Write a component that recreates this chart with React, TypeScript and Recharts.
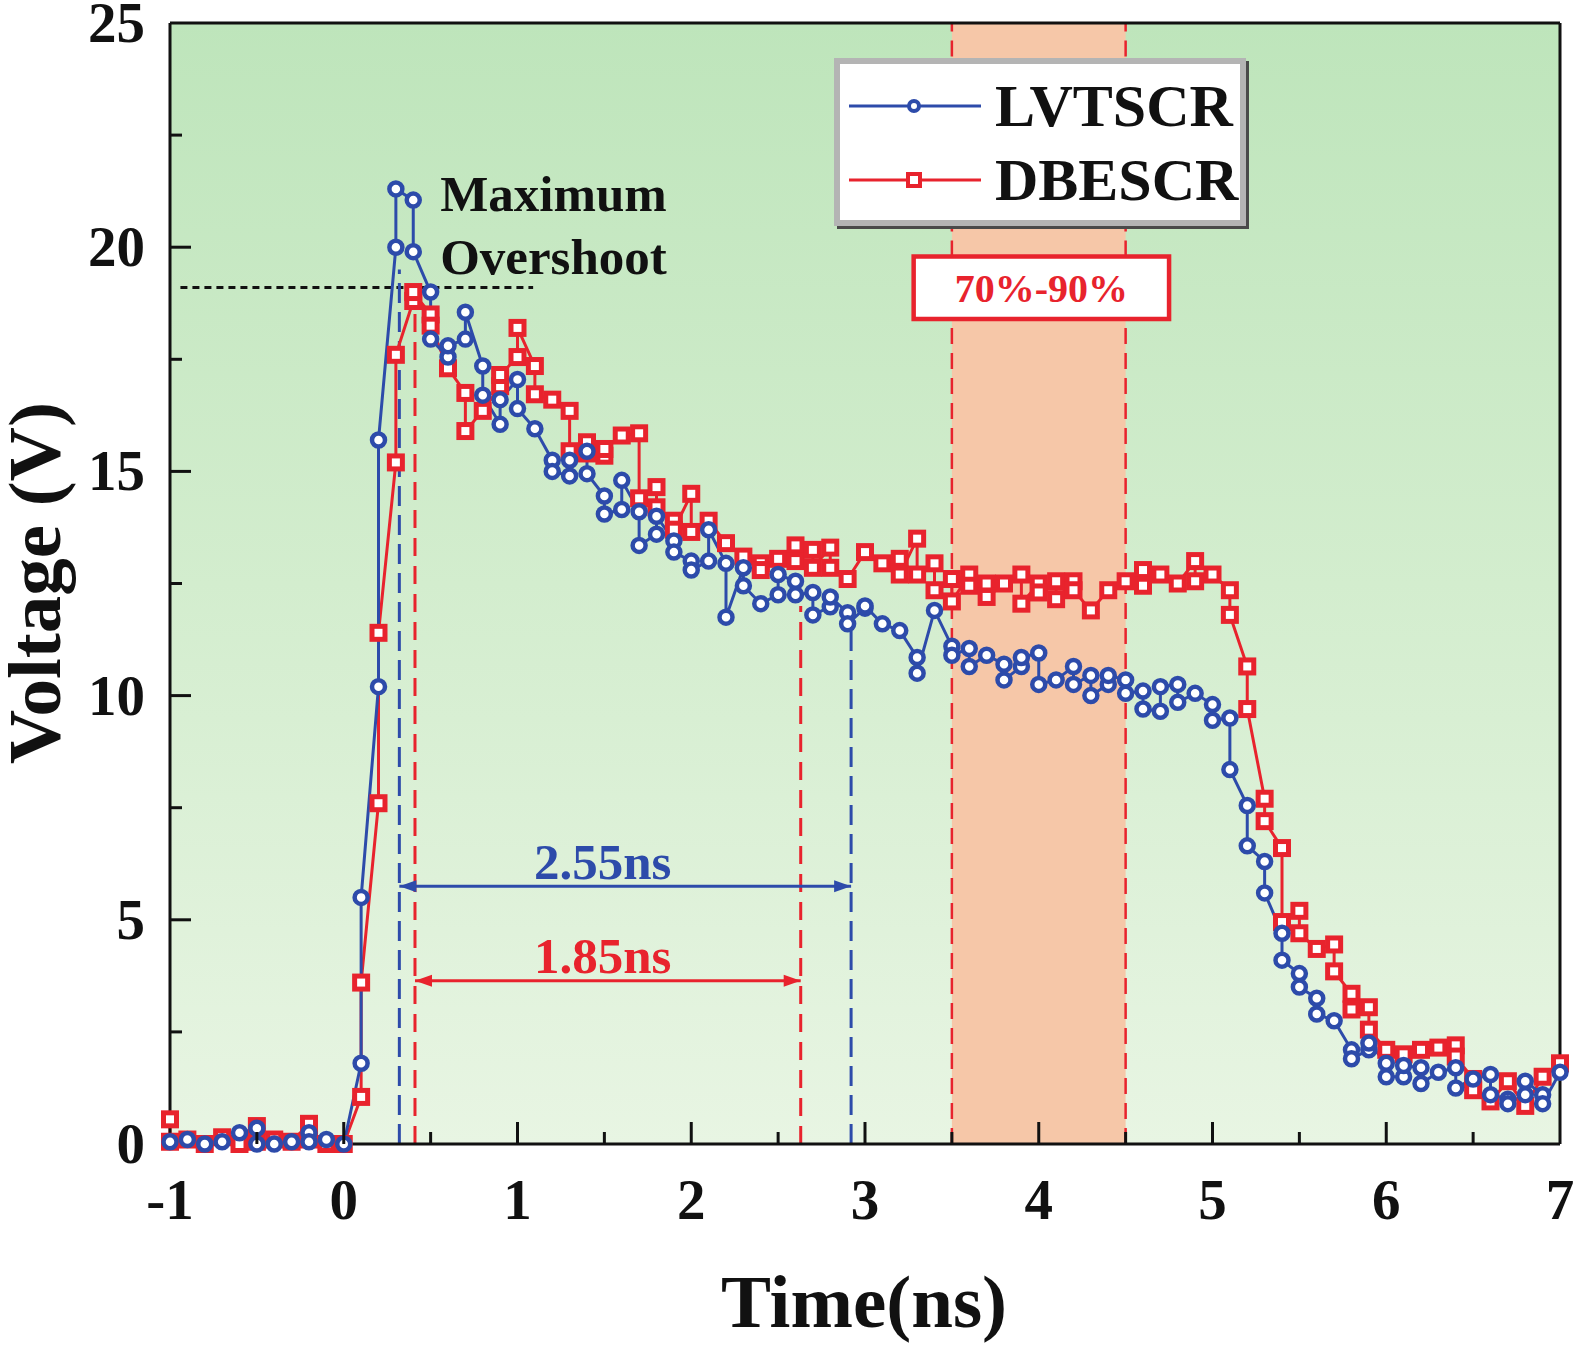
import React from 'react';
import {
  LineChart,
  Line,
  XAxis,
  YAxis,
  ReferenceArea,
  ReferenceLine,
  ReferenceDot,
  Legend,
} from 'recharts';

const BLUE = '#2d4baa';
const RED = '#e8232d';
const INK = '#111';
const SERIF = '"Liberation Serif", "Times New Roman", serif';

// [time ns, voltage V]
const LVTSCR: [number, number][] = [
  [-1.0, 0.05], [-0.9, 0.1], [-0.8, 0.0], [-0.7, 0.05], [-0.6, 0.25], [-0.5, 0.35], [-0.5, 0.0],
  [-0.4, 0.0], [-0.3, 0.05], [-0.2, 0.25], [-0.2, 0.05], [-0.1, 0.1], [0.0, 0.0],
  [0.1, 1.8], [0.1, 5.5], [0.2, 10.2], [0.2, 15.7], [0.3, 20.0], [0.3, 21.3], [0.4, 21.05], [0.4, 19.9],
  [0.5, 19.0], [0.5, 17.95], [0.6, 17.55], [0.6, 17.8], [0.7, 17.95], [0.7, 18.55], [0.8, 17.35], [0.8, 16.7],
  [0.9, 16.05], [0.9, 16.6], [1.0, 17.05], [1.0, 16.4], [1.1, 15.95], [1.2, 15.25], [1.2, 15.0],
  [1.3, 14.9], [1.3, 15.25], [1.4, 15.45], [1.4, 14.95], [1.5, 14.45], [1.5, 14.05], [1.6, 14.15], [1.6, 14.8],
  [1.7, 14.1], [1.7, 13.35], [1.8, 13.6], [1.8, 14.0], [1.9, 13.45], [1.9, 13.2], [2.0, 13.0], [2.0, 12.8],
  [2.1, 13.0], [2.1, 13.7], [2.2, 12.95], [2.2, 11.75], [2.3, 12.85], [2.3, 12.45], [2.4, 12.05],
  [2.5, 12.25], [2.5, 12.7], [2.6, 12.55], [2.6, 12.25], [2.7, 12.3], [2.7, 11.8], [2.8, 11.98], [2.8, 12.2],
  [2.9, 11.85], [2.9, 11.6], [3.0, 11.95], [3.0, 12.0], [3.1, 11.6], [3.2, 11.45], [3.3, 10.85], [3.3, 10.5],
  [3.4, 11.9], [3.5, 11.1], [3.5, 10.9], [3.6, 11.05], [3.6, 10.65], [3.7, 10.9], [3.8, 10.7], [3.8, 10.35],
  [3.9, 10.65], [3.9, 10.85], [4.0, 10.95], [4.0, 10.25], [4.1, 10.35], [4.2, 10.65], [4.2, 10.25],
  [4.3, 10.45], [4.3, 10.0], [4.4, 10.25], [4.4, 10.45], [4.5, 10.35], [4.5, 10.05], [4.6, 10.1], [4.6, 9.7],
  [4.7, 9.65], [4.7, 10.2], [4.8, 10.25], [4.8, 9.85], [4.9, 10.05], [5.0, 9.8], [5.0, 9.45],
  [5.1, 9.5], [5.1, 8.35], [5.2, 7.55], [5.2, 6.65], [5.3, 6.3], [5.3, 5.6], [5.4, 4.7], [5.4, 4.1],
  [5.5, 3.8], [5.5, 3.5], [5.6, 3.25], [5.6, 2.9], [5.7, 2.75], [5.8, 2.1], [5.8, 1.9], [5.9, 2.1], [5.9, 2.25],
  [6.0, 1.8], [6.0, 1.5], [6.1, 1.5], [6.1, 1.75], [6.2, 1.7], [6.2, 1.35], [6.3, 1.6], [6.4, 1.7], [6.4, 1.25],
  [6.5, 1.45], [6.6, 1.55], [6.6, 1.1], [6.7, 1.0], [6.7, 0.9], [6.8, 1.1], [6.8, 1.4], [6.9, 1.1], [6.9, 0.9],
  [7.0, 1.6],
];

const DBESCR: [number, number][] = [
  [-1.0, 0.55], [-1.0, 0.05], [-0.9, 0.1], [-0.8, 0.0], [-0.7, 0.15], [-0.6, 0.0], [-0.5, 0.4], [-0.5, 0.05],
  [-0.4, 0.1], [-0.3, 0.05], [-0.2, 0.45], [-0.2, 0.1], [-0.1, 0.0], [0.0, 0.0],
  [0.1, 1.05], [0.1, 3.6], [0.2, 7.6], [0.2, 11.4], [0.3, 15.2], [0.3, 17.6], [0.4, 18.8], [0.4, 19.0],
  [0.5, 18.5], [0.5, 18.25], [0.6, 17.3], [0.7, 16.75], [0.7, 15.9], [0.8, 16.35], [0.9, 16.9], [0.9, 17.15],
  [1.0, 17.55], [1.0, 18.2], [1.1, 17.35], [1.1, 16.72], [1.2, 16.6], [1.3, 16.35], [1.3, 15.45],
  [1.4, 15.65], [1.4, 15.4], [1.5, 15.35], [1.5, 15.5], [1.6, 15.8], [1.7, 15.85], [1.7, 14.4],
  [1.8, 14.65], [1.8, 14.2], [1.9, 13.9], [1.9, 13.7], [2.0, 14.5], [2.0, 13.65], [2.1, 13.9], [2.2, 13.4],
  [2.3, 13.1], [2.4, 12.95], [2.4, 12.8], [2.5, 13.05], [2.6, 13.35], [2.6, 13.0], [2.7, 13.25], [2.7, 12.85],
  [2.8, 13.3], [2.8, 12.85], [2.9, 12.6], [3.0, 13.2], [3.1, 12.95], [3.2, 13.05], [3.2, 12.7],
  [3.3, 13.5], [3.3, 12.7], [3.4, 12.95], [3.4, 12.35], [3.5, 12.6], [3.5, 12.1], [3.6, 12.7], [3.6, 12.45],
  [3.7, 12.5], [3.7, 12.2], [3.8, 12.5], [3.9, 12.7], [3.9, 12.05], [4.0, 12.5], [4.0, 12.3],
  [4.1, 12.55], [4.1, 12.15], [4.2, 12.55], [4.2, 12.35], [4.3, 11.9], [4.4, 12.35], [4.5, 12.55],
  [4.6, 12.8], [4.6, 12.45], [4.7, 12.7], [4.8, 12.5], [4.9, 13.0], [4.9, 12.55], [5.0, 12.7],
  [5.1, 12.35], [5.1, 11.8], [5.2, 10.65], [5.2, 9.7], [5.3, 7.7], [5.3, 7.2], [5.4, 6.6], [5.4, 4.95],
  [5.5, 5.2], [5.5, 4.7], [5.6, 4.35], [5.7, 4.45], [5.7, 3.85], [5.8, 3.35], [5.8, 3.0], [5.9, 3.05], [5.9, 2.55],
  [6.0, 2.1], [6.1, 2.0], [6.2, 2.1], [6.3, 2.15], [6.4, 2.2], [6.4, 1.95], [6.5, 1.45], [6.5, 1.2],
  [6.6, 0.95], [6.7, 1.4], [6.8, 0.85], [6.9, 1.5], [7.0, 1.8],
];

const X_TICKS = [-1, -0.5, 0, 0.5, 1, 1.5, 2, 2.5, 3, 3.5, 4, 4.5, 5, 5.5, 6, 6.5, 7];
const Y_TICKS = [0, 2.5, 5, 7.5, 10, 12.5, 15, 17.5, 20, 22.5, 25];

const lvtData = LVTSCR.map(([t, v]) => ({ t, v }));
const dbeData = DBESCR.map(([t, v]) => ({ t, v }));

const W = 1575;
const H = 1347;
const PLOT = { left: 170, top: 23, right: 1560, bottom: 1144 };

const boldText = { fontFamily: SERIF, fontWeight: 700 } as const;

const YTick = (p: any) => {
  const v = p.payload.value as number;
  const major = v % 5 === 0;
  return (
    <g>
      {v > 0 && v < 25 && (
        <line x1={p.x} x2={p.x + (major ? 21 : 12)} y1={p.y} y2={p.y} stroke={INK} strokeWidth={3} />
      )}
      {major && (
        <text x={p.x - 25} y={p.y + 19} textAnchor="end" fontSize={57} fill={INK} {...boldText}>
          {v}
        </text>
      )}
    </g>
  );
};

const XTick = (p: any) => {
  const v = p.payload.value as number;
  const major = Number.isInteger(v);
  return (
    <g>
      {v > -1 && v < 7 && (
        <line x1={p.x} x2={p.x} y1={p.y} y2={p.y - (major ? 22 : 12)} stroke={INK} strokeWidth={3} />
      )}
      {major && (
        <text x={p.x} y={p.y + 75} textAnchor="middle" fontSize={57} fill={INK} {...boldText}>
          {v}
        </text>
      )}
    </g>
  );
};

const circleDot = (p: any) => (
  <circle key={`c${p.index}`} cx={p.cx} cy={p.cy} r={6.5} fill="#fff" stroke={BLUE} strokeWidth={4.5} />
);

const squareDot = (p: any) => (
  <rect key={`s${p.index}`} x={p.cx - 6.5} y={p.cy - 6.5} width={13} height={13} fill="#fff" stroke={RED} strokeWidth={5} />
);

const arrowHead = (dir: 1 | -1, color: string) => (p: any) => (
  <polygon
    points={`${p.cx},${p.cy} ${p.cx + dir * 17},${p.cy - 6} ${p.cx + dir * 17},${p.cy + 6}`}
    fill={color}
  />
);

const textShape = (txt: string, color: string, size: number, anchor: 'start' | 'middle') => (p: any) => (
  <text x={p.cx} y={p.cy} textAnchor={anchor} fontSize={size} fill={color} {...boldText}>
    {txt}
  </text>
);

const LegendBox = () => {
  const rows = [
    { name: 'LVTSCR', color: BLUE, square: false, top: 48 },
    { name: 'DBESCR', color: RED, square: true, top: 122 },
  ];
  return (
    <div
      style={{
        position: 'relative',
        width: 412,
        height: 168,
        boxSizing: 'border-box',
        background: '#fff',
        border: '6px solid #b4b4b4',
        boxShadow: '3px 3px 0 #4a4a4a',
      }}
    >
      {rows.map((r) => (
        <div key={r.name} style={{ position: 'absolute', left: 9, top: r.top - 6 - 37, height: 74, display: 'flex', alignItems: 'center' }}>
          <svg width={132} height={20} style={{ display: 'block' }}>
            <line x1={0} x2={132} y1={10} y2={10} stroke={r.color} strokeWidth={3} />
            {r.square ? (
              <rect x={59} y={4} width={12} height={12} fill="#fff" stroke={r.color} strokeWidth={4} />
            ) : (
              <circle cx={65} cy={10} r={5} fill="#fff" stroke={r.color} strokeWidth={4} />
            )}
          </svg>
          <span style={{ marginLeft: 14, fontSize: 60, lineHeight: '74px', color: INK, ...boldText }}>{r.name}</span>
        </div>
      ))}
    </div>
  );
};

export default function App() {
  return (
    <div style={{ position: 'absolute', left: 0, top: 0, width: W, height: H, background: '#fff' }}>
      <div
        style={{
          position: 'absolute',
          left: PLOT.left,
          top: PLOT.top,
          width: PLOT.right - PLOT.left,
          height: PLOT.bottom - PLOT.top,
          background: 'linear-gradient(to bottom, #bee5bb 0%, #d3edce 50%, #e8f5e3 100%)',
        }}
      />
      <LineChart
        width={W}
        height={H}
        margin={{ top: PLOT.top, right: W - PLOT.right, left: PLOT.left - 100, bottom: H - PLOT.bottom - 60 }}
      >
        <XAxis
          type="number"
          dataKey="t"
          domain={[-1, 7]}
          ticks={X_TICKS}
          interval={0}
          tickLine={false}
          tickSize={0}
          tickMargin={0}
          height={60}
          axisLine={{ stroke: INK, strokeWidth: 3 }}
          tick={<XTick />}
          label={{
            content: () => (
              <text x={864} y={1327} textAnchor="middle" fontSize={75} fill={INK} {...boldText}>
                Time(ns)
              </text>
            ),
          }}
        />
        <YAxis
          type="number"
          domain={[0, 25]}
          ticks={Y_TICKS}
          interval={0}
          tickLine={false}
          tickSize={0}
          tickMargin={0}
          width={100}
          axisLine={{ stroke: INK, strokeWidth: 3 }}
          tick={<YTick />}
          label={{
            content: () => (
              <text x={60} y={583} transform="rotate(-90 60 583)" textAnchor="middle" fontSize={75} fill={INK} {...boldText}>
                Voltage (V)
              </text>
            ),
          }}
        />

        <ReferenceArea x1={3.5} x2={4.5} y1={0} y2={25} fill="#f6c7a8" fillOpacity={1} stroke="none" />
        <ReferenceLine segment={[{ x: 3.5, y: 0 }, { x: 3.5, y: 18.4 }]} stroke={RED} strokeWidth={2.5} strokeDasharray="16 9" />
        <ReferenceLine segment={[{ x: 3.5, y: 19.79 }, { x: 3.5, y: 25 }]} stroke={RED} strokeWidth={2.5} strokeDasharray="16 9" />
        <ReferenceLine segment={[{ x: 4.5, y: 0 }, { x: 4.5, y: 18.4 }]} stroke={RED} strokeWidth={2.5} strokeDasharray="16 9" />
        <ReferenceLine segment={[{ x: 4.5, y: 19.79 }, { x: 4.5, y: 25 }]} stroke={RED} strokeWidth={2.5} strokeDasharray="16 9" />
        <ReferenceLine y={25} stroke={INK} strokeWidth={3} />
        <ReferenceLine x={7} stroke={INK} strokeWidth={3} />

        <ReferenceLine segment={[{ x: -0.94, y: 19.1 }, { x: 1.09, y: 19.1 }]} stroke={INK} strokeWidth={3} strokeDasharray="7 5" />
        <ReferenceLine segment={[{ x: 0.32, y: 0 }, { x: 0.32, y: 19.5 }]} stroke={BLUE} strokeWidth={3} strokeDasharray="20 9" />
        <ReferenceLine segment={[{ x: 0.41, y: 0 }, { x: 0.41, y: 18.7 }]} stroke={RED} strokeWidth={3} strokeDasharray="18 10" />
        <ReferenceLine segment={[{ x: 2.63, y: 0 }, { x: 2.63, y: 12.0 }]} stroke={RED} strokeWidth={3} strokeDasharray="18 10" />
        <ReferenceLine segment={[{ x: 2.92, y: 0 }, { x: 2.92, y: 11.5 }]} stroke={BLUE} strokeWidth={3} strokeDasharray="20 9" />

        <ReferenceLine segment={[{ x: 0.32, y: 5.75 }, { x: 2.92, y: 5.75 }]} stroke={BLUE} strokeWidth={3} />
        <ReferenceLine segment={[{ x: 0.41, y: 3.64 }, { x: 2.63, y: 3.64 }]} stroke={RED} strokeWidth={3} />
        <ReferenceDot x={0.32} y={5.75} r={0} shape={arrowHead(1, BLUE)} />
        <ReferenceDot x={2.92} y={5.75} r={0} shape={arrowHead(-1, BLUE)} />
        <ReferenceDot x={0.41} y={3.64} r={0} shape={arrowHead(1, RED)} />
        <ReferenceDot x={2.63} y={3.64} r={0} shape={arrowHead(-1, RED)} />
        <ReferenceDot x={1.49} y={5.9} r={0} shape={textShape('2.55ns', BLUE, 51, 'middle')} />
        <ReferenceDot x={1.49} y={3.82} r={0} shape={textShape('1.85ns', RED, 51, 'middle')} />
        <ReferenceDot x={0.555} y={20.8} r={0} shape={textShape('Maximum', INK, 51, 'start')} />
        <ReferenceDot x={0.555} y={19.41} r={0} shape={textShape('Overshoot', INK, 51, 'start')} />

        <ReferenceArea
          x1={3.28}
          x2={4.75}
          y1={18.4}
          y2={19.79}
          fill="#fff"
          fillOpacity={1}
          stroke={RED}
          strokeWidth={4.5}
          label={{ value: '70%-90%', position: 'center', fill: RED, fontSize: 40, fontWeight: 700, fontFamily: SERIF }}
        />

        <Line
          data={dbeData}
          dataKey="v"
          name="DBESCR"
          stroke={RED}
          strokeWidth={3}
          dot={squareDot}
          activeDot={false}
          isAnimationActive={false}
        />
        <Line
          data={lvtData}
          dataKey="v"
          name="LVTSCR"
          stroke={BLUE}
          strokeWidth={3}
          dot={circleDot}
          activeDot={false}
          isAnimationActive={false}
        />

        <Legend
          layout="vertical"
          align="center"
          verticalAlign="middle"
          wrapperStyle={{ left: 834, top: 58, width: 412, height: 168 }}
          content={() => <LegendBox />}
        />
      </LineChart>
    </div>
  );
}
